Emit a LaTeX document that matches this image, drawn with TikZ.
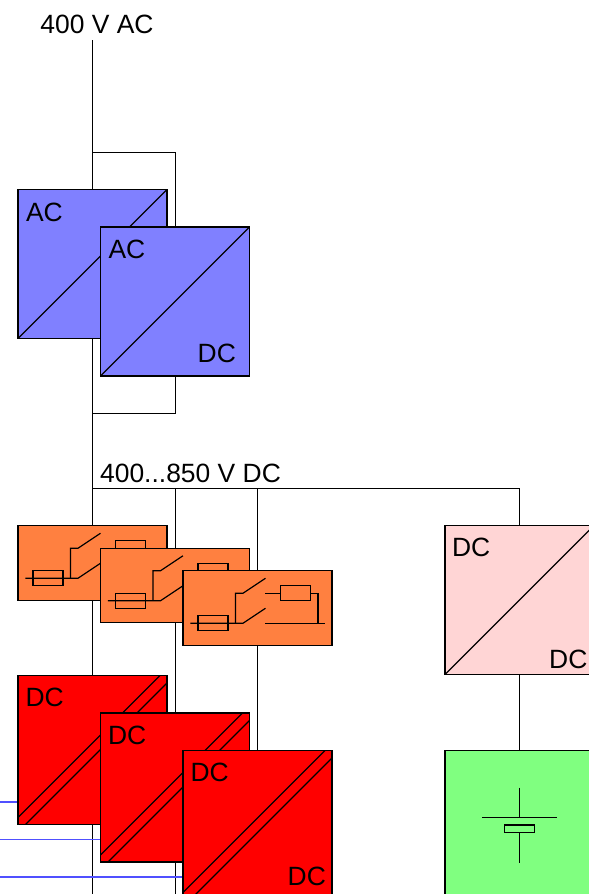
\documentclass[tikz,border=0pt]{standalone}
\usepackage{fontspec}
\setmainfont{Liberation Sans}
\usetikzlibrary{calc,backgrounds}
\definecolor{acblue}{HTML}{8080FF}
\definecolor{swcolor}{HTML}{FF8040}
\definecolor{dcred}{HTML}{FF0000}
\definecolor{dcpink}{HTML}{FFD5D5}
\definecolor{batgreen}{HTML}{80FF80}
\definecolor{outblue}{HTML}{5050FF}

\begin{document}
\begin{tikzpicture}[x=0.025cm,y=-0.025cm,line width=0.85pt,
    conv/.style={rectangle,draw,minimum width=3.725cm,minimum height=3.725cm,inner sep=0pt,outer sep=0pt},
    swbox/.style={rectangle,draw,fill=swcolor,minimum width=3.725cm,minimum height=1.8625cm,inner sep=0pt,outer sep=0pt},
    lbl/.style={inner sep=0pt,font=\fontsize{18.8}{20}\selectfont}]

\useasboundingbox (0,0) rectangle (589,894);
\clip (0,0) rectangle (589,894);

% Redresseurs
\foreach \i in {0,1} {
    \node[conv,fill=acblue] (ac\i) at (92.5+82.5*\i,264+37.5*\i) {};
    \draw (ac\i.south west) -- (ac\i.north east);
    \node[lbl,anchor=west] (aclbl\i) at ($(ac\i.north west)+(7.5,22.5)$) {AC};
}
\node[lbl,anchor=east] (acdc) at ($(ac1.south east)+(-13,-23)$) {DC};

% Interrupteurs
\foreach \i in {0,1,2} {
    \node[swbox] (sw\i) at (92.5+82.5*\i,563+22.5*\i) {};
    \begin{scope}[shift={(sw\i.north west)}]
        \draw (15,45) rectangle (45,60);
        \draw (7.5,52.5) -- (60,52.5) -- (82.5,37.5);
        \draw (52.5,52.5) -- (52.5,22.5) -- (60,22.5) -- (82.5,7.5);
        \draw (97.5,15) rectangle (127.5,30);
        \draw (82.5,22.5) -- (97.5,22.5);
        \draw (127.5,22.5) -- (135,22.5) -- (135,52.5);
        \draw (82.5,52.5) -- (142.5,52.5);
    \end{scope}
}

% Convertisseurs DC
\foreach \i in {0,1,2} {
    \node[conv,fill=dcred] (dc\i) at (92.5+82.5*\i,750+37.5*\i) {};
    \draw ($(dc\i.north west)+(142,0)$) -- ($(dc\i.north west)+(0,142)$);
    \draw ($(dc\i.north west)+(149,7.5)$) -- ($(dc\i.north west)+(7.5,149)$);
    \node[lbl,anchor=west] (dclbl\i) at ($(dc\i.north west)+(7,22)$) {DC};
}
\node[lbl,anchor=east] (dcout) at ($(dc2.south east)+(-5.5,-23)$) {DC};

% Batterie
\node[conv,fill=dcpink] (chg) at (519.5,600) {};
\draw (chg.south west) -- (chg.north east);
\node[lbl,anchor=west] (chgin) at ($(chg.north west)+(6.5,22)$) {DC};
\node[lbl,anchor=east] (chgout) at ($(chg.south east)+(-6,-15)$) {DC};
\node[conv,fill=batgreen] (bat) at (519.5,825) {};
\draw ($(bat.center)+(0,-37.5)$) -- ($(bat.center)+(0,-7.5)$);
\draw ($(bat.center)+(-37.5,-7.5)$) -- ($(bat.center)+(37.5,-7.5)$);
\draw ($(bat.center)+(-15,0)$) rectangle ($(bat.center)+(15,7.5)$);
\draw ($(bat.center)+(0,7.5)$) -- ($(bat.center)+(0,37.5)$);

% Textes
\node[lbl] (vac) at (97,24) {400 V AC};
\node[lbl] (vdc) at (190.5,473) {400...850 V DC};

% Liaisons
\coordinate (in) at (92.5,40);
\coordinate (end) at (92.5,894);
\coordinate (bus) at (92.5,488);
\coordinate (bypa) at (92.5,152.5);
\coordinate (bypb) at (92.5,413.5);
\begin{scope}[on background layer]
    \draw (in) -- (end);
    \draw (bypa) -| (ac1.north);
    \draw (bypb) -| (ac1.south);
    \draw (bus) -| (chg.north);
    \draw (chg.south) -- (bat.north);
    \draw (dc1.center |- bus) -- (dc1.center |- end);
    \draw (dc2.center |- bus) -- (dc2.north);
    \foreach \i in {0,1,2} {
        \coordinate (out\i) at (0,802+37.5*\i);
        \draw[outblue,line width=1.2pt] (out\i) -- (out\i -| dc\i.west);
    }
\end{scope}

\end{tikzpicture}
\end{document}
